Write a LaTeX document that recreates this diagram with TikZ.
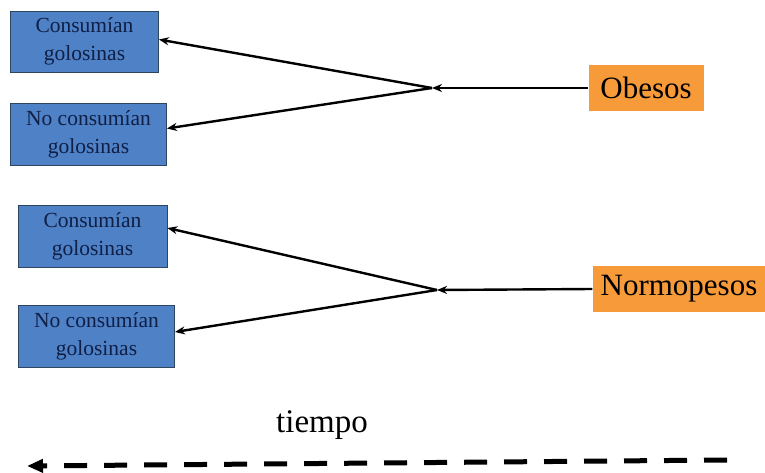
\documentclass[tikz,border=0pt]{standalone}
\usepackage{fontspec}
\setmainfont{Liberation Serif}
\usepackage{xcolor}
\usetikzlibrary{arrows.meta}
\definecolor{grupoazul}{HTML}{4F81C7}
\definecolor{bordeazul}{HTML}{2E4560}
\definecolor{textoazul}{HTML}{0F1F45}
\definecolor{gruponaranja}{HTML}{F79A3A}

\begin{document}
\begin{tikzpicture}[x=1pt,y=-1pt,>={Stealth[length=10pt,width=8pt]},
  grupo/.style={rectangle,draw=bordeazul,line width=0.8pt,fill=grupoazul,text=textoazul,
    align=center,inner sep=0pt,font=\fontsize{21.5}{28}\selectfont},
  peso/.style={rectangle,fill=gruponaranja,text=black,inner sep=0pt,font=\fontsize{31}{34}\selectfont},
  flecha/.style={->,line width=2.4pt}]
  \useasboundingbox (0,0) rectangle (765,473);
  \node[grupo,minimum width=148pt,minimum height=61pt] (c1) at (84.5,41.5) {Consumían\\golosinas};
  \node[grupo,minimum width=156pt,minimum height=62pt] (n1) at (88.5,134.5) {No consumían\\golosinas};
  \node[grupo,minimum width=149pt,minimum height=62pt] (c2) at (92.5,236) {Consumían\\golosinas};
  \node[grupo,minimum width=156pt,minimum height=62pt] (n2) at (96.5,336) {No consumían\\golosinas};
  \node[peso,minimum width=115pt,minimum height=46pt] (ob) at (646,88) {Obesos};
  \node[peso,minimum width=173pt,minimum height=46pt] (np) at (679,289) {Normopesos};
  \coordinate (j1) at (432,88);
  \coordinate (j2) at (437,290);
  \draw[flecha] (ob.west) -- (j1);
  \draw[flecha] (j1) -- ([yshift=2pt]c1.east);
  \draw[flecha] (j1) -- ([yshift=6pt]n1.east);
  \draw[flecha] (np.west) -- (j2);
  \draw[flecha] (j2) -- ([yshift=8pt]c2.east);
  \draw[flecha] (j2) -- ([yshift=4pt]n2.east);
  \node[font=\fontsize{33}{36}\selectfont] (tiempo) at (322,425) {tiempo};
  \coordinate (t0) at (727,460);
  \coordinate (t1) at (27,466);
  \draw[-{Triangle[length=16pt,width=13pt]},line width=5pt,dash pattern=on 23pt off 17pt] (t0) -- (t1);
\end{tikzpicture}
\end{document}
